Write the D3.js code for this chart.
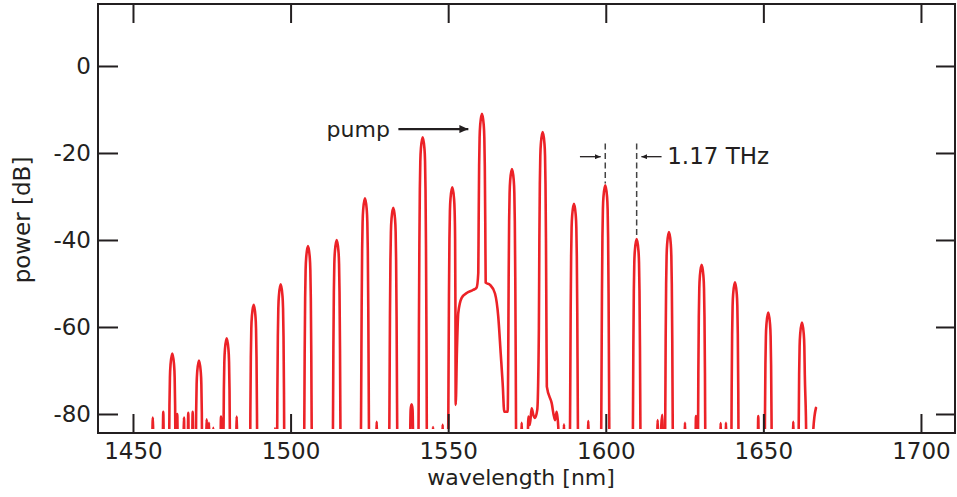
<!DOCTYPE html>
<html>
<head>
<meta charset="utf-8">
<script src="https://cdn.jsdelivr.net/npm/d3@7"></script>
<style>
  html, body { margin: 0; padding: 0; background: #fff; }
  svg { display: block; }
  text { font-family: "DejaVu Sans", sans-serif; fill: #231f20; }
</style>
</head>
<body>
<svg id="chart" width="957" height="497"></svg>
<script>
// ---------------- data ----------------
const xTicks = [1450, 1500, 1550, 1600, 1650, 1700];
const yTicks = [0, -20, -40, -60, -80];
const xLabel = "wavelength [nm]";
const yLabel = "power [dB]";

// measured OSA trace: [wavelength nm, power dB]; values below the floor are off-chart
const trace = [
  [1456.0,-95],[1456.3,-80.8],[1456.6,-95],
  [1459.3,-95],[1459.61,-79.5],[1459.9,-95],
  [1461.42,-91.1],[1461.57,-78.1],[1461.72,-71.6],[1461.92,-68.6],[1462.47,-66.1],[1463.02,-68.6],[1463.22,-71.6],[1463.37,-78.1],[1463.52,-91.1],
  [1463.8,-95],[1464.05,-80],[1464.3,-95],
  [1465.9,-95],[1466.18,-80.8],[1466.45,-95],
  [1467.25,-95],[1467.54,-79.7],[1467.8,-95],
  [1468.65,-95],[1468.94,-79.5],[1469.2,-95],
  [1469.89,-92.7],[1470.04,-79.7],[1470.19,-73.2],[1470.39,-70.2],[1470.94,-67.7],[1471.49,-70.2],[1471.69,-73.2],[1471.84,-79.7],[1471.99,-92.7],
  [1473.1,-95],[1473.38,-81.2],[1473.7,-95],[1474.1,-82],[1474.4,-95],
  [1475.25,-95],[1475.48,-83.2],[1475.7,-95],
  [1477.65,-95],[1477.92,-80.6],[1478.2,-95],
  [1478.68,-87.6],[1478.83,-74.6],[1478.98,-68.1],[1479.18,-65.1],[1479.73,-62.6],[1480.28,-65.1],[1480.48,-68.1],[1480.63,-74.6],[1480.78,-87.6],
  [1482.6,-95],[1482.9,-80.6],[1483.2,-95],
  [1487.09,-99],[1487.24,-79.9],[1487.39,-66.9],[1487.54,-60.4],[1487.74,-57.4],[1488.29,-54.9],[1488.84,-57.4],[1489.04,-60.4],[1489.19,-66.9],[1489.34,-79.9],[1489.49,-99],
  [1494.8,-95],[1495.05,-83.3],[1495.3,-95],
  [1495.66,-95],[1495.81,-75.2],[1495.96,-62.2],[1496.11,-55.7],[1496.31,-52.7],[1496.86,-50.2],[1497.41,-52.7],[1497.61,-55.7],[1497.76,-62.2],[1497.91,-75.2],[1498.06,-95],
  [1504.12,-95],[1504.32,-86.4],[1504.47,-66.4],[1504.62,-53.4],[1504.77,-46.9],[1504.97,-43.9],[1505.52,-41.4],[1506.07,-43.9],[1506.27,-46.9],[1506.42,-53.4],[1506.57,-66.4],[1506.72,-86.4],[1506.92,-95],
  [1513.23,-95],[1513.43,-85],[1513.58,-65],[1513.73,-52],[1513.88,-45.5],[1514.08,-42.5],[1514.63,-40],[1515.18,-42.5],[1515.38,-45.5],[1515.53,-52],[1515.68,-65],[1515.83,-85],[1516.03,-95],
  [1522.2,-95],[1522.4,-75.4],[1522.55,-55.4],[1522.7,-42.4],[1522.85,-35.9],[1523.05,-32.9],[1523.6,-30.4],[1524.15,-32.9],[1524.35,-35.9],[1524.5,-42.4],[1524.65,-55.4],[1524.8,-75.4],[1525.0,-95],
  [1527.0,-95],[1527.32,-81.8],[1527.6,-95],
  [1531.18,-95],[1531.38,-77.6],[1531.53,-57.6],[1531.68,-44.6],[1531.83,-38.1],[1532.03,-35.1],[1532.58,-32.6],[1533.13,-35.1],[1533.33,-38.1],[1533.48,-44.6],[1533.63,-57.6],[1533.78,-77.6],[1533.98,-95],
  [1537.7,-95],[1538.1,-79],[1538.4,-77.8],[1538.7,-79],[1539.1,-95],
  [1540.51,-96.4],[1540.71,-61.4],[1540.86,-41.4],[1541.01,-28.4],[1541.16,-21.9],[1541.36,-18.9],[1541.91,-16.4],[1542.46,-18.9],[1542.66,-21.9],[1542.81,-28.4],[1542.96,-41.4],[1543.11,-61.4],[1543.31,-96.4],
  [1545.0,-95],[1545.2,-83],[1545.4,-95],[1548.0,-95],[1548.25,-82.5],[1548.5,-95],
  [1549.9,-95],[1550.1,-72.9],[1550.25,-52.9],[1550.4,-39.9],[1550.55,-33.4],[1550.75,-30.4],[1551.3,-27.9],[1551.85,-30.4],[1552.05,-33.4],[1552.2,-39.9],[1552.3,-55],[1552.38,-77.9],
  [1552.79,-65],[1553.2,-56.8],[1554.28,-53.3],[1555.87,-52.2],[1557.87,-51.5],[1559.04,-50.9],[1559.55,-47.6],
  [1559.67,-36],[1559.82,-23],[1559.97,-16.5],[1560.17,-13.5],[1560.72,-11],[1561.27,-13.5],[1561.47,-16.5],[1561.62,-23],[1561.77,-36],[1561.9,-49.8],
  [1563.26,-50.3],[1564.85,-52.3],[1565.89,-57.6],[1566.66,-66],[1567.29,-73],[1567.8,-79.5],[1568.88,-79.5],
  [1569.04,-68.7],[1569.19,-48.7],[1569.34,-35.7],[1569.49,-29.2],[1569.69,-26.2],[1570.24,-23.7],[1570.79,-26.2],[1570.99,-29.2],[1571.14,-35.7],[1571.29,-48.7],[1571.44,-68.7],[1571.64,-95],
  [1573.05,-95],[1573.32,-82],[1573.6,-95],
  [1575.1,-95],[1575.41,-80.6],[1575.9,-82.5],[1576.49,-78.7],[1577.0,-80.2],[1577.54,-80.9],[1578.27,-79],
  [1578.78,-60.2],[1578.93,-40.2],[1579.08,-27.2],[1579.23,-20.7],[1579.43,-17.7],[1579.98,-15.2],[1580.53,-17.7],[1580.73,-20.7],[1580.88,-27.2],[1581.03,-40.2],[1581.18,-60.2],
  [1581.3,-73.7],[1582.84,-77.5],[1583.88,-81.4],[1584.42,-79.5],[1584.93,-83],[1585.2,-95],
  [1586.45,-95],[1586.74,-82.4],[1587.0,-95],
  [1588.51,-95],[1588.71,-76.7],[1588.86,-56.7],[1589.01,-43.7],[1589.16,-37.2],[1589.36,-34.2],[1589.91,-31.7],[1590.46,-34.2],[1590.66,-37.2],[1590.81,-43.7],[1590.96,-56.7],[1591.11,-76.7],[1591.31,-95],
  [1594.15,-95],[1594.45,-81.6],[1594.75,-95],
  [1598.44,-95],[1598.64,-72.4],[1598.79,-52.4],[1598.94,-39.4],[1599.09,-32.9],[1599.29,-29.9],[1599.84,-27.4],[1600.39,-29.9],[1600.59,-32.9],[1600.74,-39.4],[1600.89,-52.4],[1601.04,-72.4],[1601.24,-95],
  [1608.4,-95],[1608.6,-84.8],[1608.75,-64.8],[1608.9,-51.8],[1609.05,-45.3],[1609.25,-42.3],[1609.8,-39.8],[1610.35,-42.3],[1610.55,-45.3],[1610.7,-51.8],[1610.85,-64.8],[1611.0,-84.8],[1611.2,-95],
  [1616.15,-95],[1616.46,-81.4],[1616.75,-95],[1617.92,-80.2],[1618.3,-95],
  [1618.85,-83.2],[1619.0,-63.2],[1619.15,-50.2],[1619.3,-43.7],[1619.5,-40.7],[1620.05,-38.2],[1620.6,-40.7],[1620.8,-43.7],[1620.95,-50.2],[1621.1,-63.2],[1621.25,-83.2],[1621.45,-95],
  [1624.85,-95],[1625.13,-82],[1625.4,-95],[1628.35,-95],[1628.62,-80.5],[1628.9,-95],
  [1629.22,-90.7],[1629.37,-70.7],[1629.52,-57.7],[1629.67,-51.2],[1629.87,-48.2],[1630.42,-45.7],[1630.97,-48.2],[1631.17,-51.2],[1631.32,-57.7],[1631.47,-70.7],[1631.62,-90.7],
  [1636.2,-95],[1636.45,-82.1],[1636.7,-95],[1637.9,-95],[1638.13,-82],[1638.4,-95],
  [1639.79,-94.7],[1639.94,-74.7],[1640.09,-61.7],[1640.24,-55.2],[1640.44,-52.2],[1640.99,-49.7],[1641.54,-52.2],[1641.74,-55.2],[1641.89,-61.7],[1642.04,-74.7],[1642.19,-94.7],
  [1648.1,-95],[1648.38,-80.5],[1648.65,-95],
  [1650.35,-100],[1650.5,-81.7],[1650.65,-68.7],[1650.8,-62.2],[1651.0,-59.2],[1651.55,-56.7],[1652.1,-59.2],[1652.3,-62.2],[1652.45,-68.7],[1652.6,-81.7],[1652.75,-100],
  [1659.2,-95],[1659.49,-81.8],[1659.75,-95],
  [1661.05,-100],[1661.2,-84],[1661.35,-71],[1661.5,-64.5],[1661.7,-61.5],[1662.25,-59],[1662.8,-61.5],[1663.0,-64.5],[1663.15,-71],[1663.5,-80.5],[1663.8,-95],
  [1665.6,-95],[1665.85,-83.5],[1666.69,-78.6]
];

// annotations (data coordinates)
const pumpText = "pump";
const pumpTextAt = [1531.5, -16.25];
const pumpArrow = [1534.2, 1556.4, -14.5];          // from wl, to wl, power
const spacingText = "1.17 THz";
const spacingTextAt = [1619.5, -22.5];
const spacingLines = [1599.84, 1609.80];            // comb lines marked
const spacingLineTop = -17.8;
const spacingLineBottoms = [-27.0, -39.3];
const spacingArrows = [[1591.8, 1598.4], [1617.7, 1611.3]]; // from wl -> to wl
const spacingArrowPower = -20.85;

// ---------------- layout ----------------
const box = { left: 98, right: 955, top: 4, bottom: 433 };
const clipBottom = 429;
const ink = "#231f20";
const red = "#ec2227";

const svg = d3.select("#chart");
const x = d3.scaleLinear().domain([1438.9, 1710.8]).range([box.left, box.right]);
const y = d3.scaleLinear().domain([14.25, -84.37]).range([box.top, box.bottom]);

const defs = svg.append("defs");
defs.append("clipPath").attr("id", "plotclip")
  .append("rect")
  .attr("x", box.left).attr("y", box.top)
  .attr("width", box.right - box.left).attr("height", clipBottom - box.top);

function marker(id, len, half) {
  defs.append("marker").attr("id", id)
    .attr("viewBox", `0 ${-half} ${len} ${2 * half}`)
    .attr("refX", len).attr("refY", 0)
    .attr("markerUnits", "userSpaceOnUse")
    .attr("markerWidth", len).attr("markerHeight", 2 * half)
    .attr("orient", "auto")
    .append("path").attr("d", `M0,${-half}L${len},0L0,${half}Z`).attr("fill", ink);
}
marker("bigArrow", 9, 4);
marker("smallArrow", 6, 2.6);

// trace
const line = d3.line().x(d => x(d[0])).y(d => y(d[1])).curve(d3.curveMonotoneX);
svg.append("g").attr("clip-path", "url(#plotclip)")
  .append("path").datum(trace)
  .attr("d", line)
  .attr("fill", "none")
  .attr("stroke", red)
  .attr("stroke-width", 2.6)
  .attr("stroke-linejoin", "round")
  .attr("stroke-linecap", "round");

// axes (ticks inward on all four sides)
const plainNum = d => String(d);   // ASCII hyphen-minus, as in the figure
function styleAxis(g) {
  g.select(".domain").remove();
  g.selectAll(".tick line").attr("stroke", ink).attr("stroke-width", 2);
  g.selectAll(".tick text").attr("fill", ink)
    .style("font-family", '"DejaVu Sans", sans-serif').style("font-size", "23px");
}
svg.append("g").attr("transform", `translate(0,${box.bottom})`)
  .call(d3.axisBottom(x).tickValues(xTicks).tickSize(-19).tickPadding(10).tickFormat(plainNum))
  .call(styleAxis);
svg.append("g").attr("transform", `translate(0,${box.top})`)
  .call(d3.axisTop(x).tickValues(xTicks).tickSize(-19).tickFormat(""))
  .call(styleAxis);
svg.append("g").attr("transform", `translate(${box.left},0)`)
  .call(d3.axisLeft(y).tickValues(yTicks).tickSize(-20).tickPadding(7).tickFormat(plainNum))
  .call(styleAxis);
svg.append("g").attr("transform", `translate(${box.right},0)`)
  .call(d3.axisRight(y).tickValues(yTicks).tickSize(-19).tickFormat(""))
  .call(styleAxis);

svg.append("rect")
  .attr("x", box.left).attr("y", box.top)
  .attr("width", box.right - box.left).attr("height", box.bottom - box.top)
  .attr("fill", "none").attr("stroke", ink).attr("stroke-width", 2);

// axis titles
svg.append("text").attr("x", 521).attr("y", 484.5)
  .attr("text-anchor", "middle").style("font-size", "22px").text(xLabel);
svg.append("text").attr("transform", "translate(30,220) rotate(-90)")
  .attr("text-anchor", "middle").style("font-size", "23px").text(yLabel);

// pump annotation
svg.append("text").attr("x", x(pumpTextAt[0])).attr("y", y(pumpTextAt[1]))
  .attr("text-anchor", "end").style("font-size", "22px").text(pumpText);
svg.append("line")
  .attr("x1", x(pumpArrow[0])).attr("x2", x(pumpArrow[1]))
  .attr("y1", y(pumpArrow[2])).attr("y2", y(pumpArrow[2]))
  .attr("stroke", ink).attr("stroke-width", 2.2)
  .attr("marker-end", "url(#bigArrow)");

// comb spacing annotation
svg.selectAll(".spacing").data(spacingLines).join("line")
  .attr("class", "spacing")
  .attr("x1", d => x(d)).attr("x2", d => x(d))
  .attr("y1", y(spacingLineTop)).attr("y2", (d, i) => y(spacingLineBottoms[i]))
  .attr("stroke", "#444").attr("stroke-width", 1.5)
  .attr("stroke-dasharray", "6,3.5");
svg.selectAll(".sarrow").data(spacingArrows).join("line")
  .attr("class", "sarrow")
  .attr("x1", d => x(d[0])).attr("x2", d => x(d[1]))
  .attr("y1", y(spacingArrowPower)).attr("y2", y(spacingArrowPower))
  .attr("stroke", ink).attr("stroke-width", 1.3)
  .attr("marker-end", "url(#smallArrow)");
svg.append("text").attr("x", x(spacingTextAt[0])).attr("y", y(spacingTextAt[1]))
  .style("font-size", "23px").text(spacingText);
</script>
</body>
</html>
